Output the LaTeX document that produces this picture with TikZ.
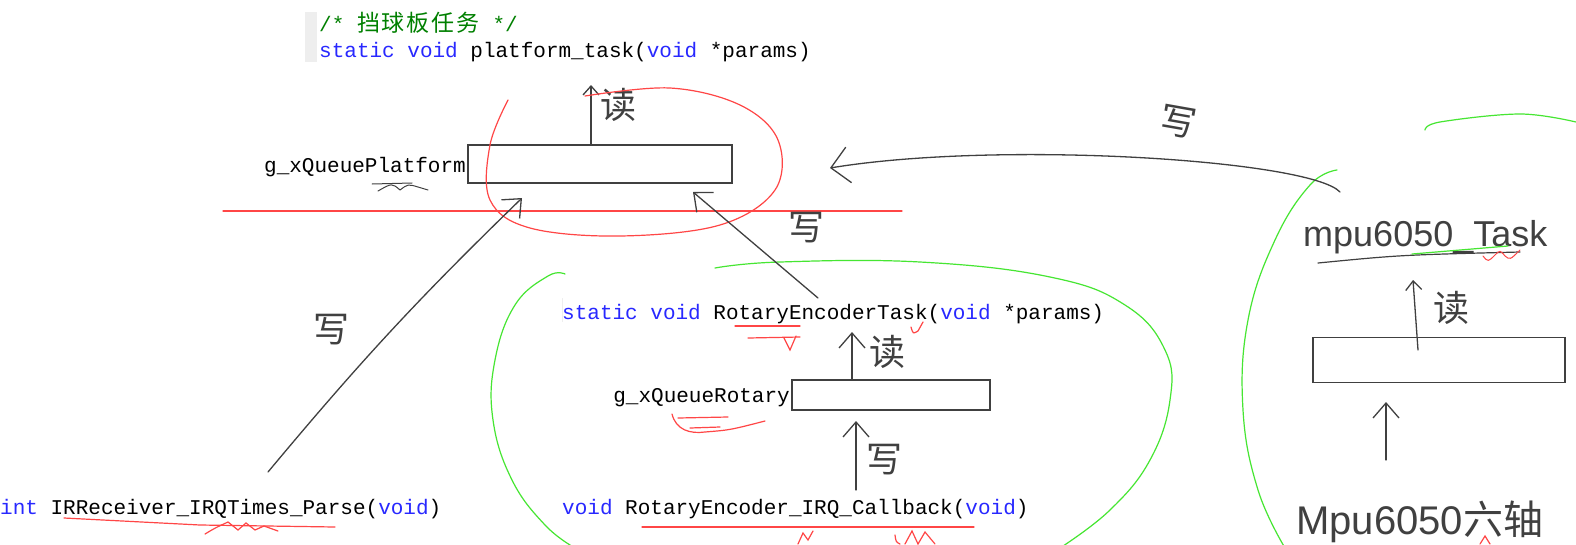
\documentclass[tikz,border=0pt]{standalone}
\usepackage{fontspec}
\setmonofont{Liberation Mono}
\setsansfont{Liberation Sans}
\newfontfamily\cjk{Noto Sans CJK SC}
\usetikzlibrary{arrows.meta}
\definecolor{kw}{RGB}{40,40,255}
\definecolor{cmt}{RGB}{0,128,0}
\definecolor{pen}{RGB}{64,64,64}
\definecolor{redpen}{RGB}{255,70,70}
\definecolor{greenpen}{RGB}{70,230,50}
\definecolor{margin}{RGB}{238,238,238}
\tikzset{
  code/.style={font=\ttfamily\fontsize{21}{24}\selectfont, inner sep=0pt, anchor=base west},
  codeR/.style={code, anchor=base east},
  queue/.style={draw=pen, line width=1.3pt, inner sep=0pt, fill=white},
  hand/.style={draw=pen, line width=1.3pt, line cap=round, line join=round},
  harrow/.style={hand, -{Straight Barb[length=15pt,width=26pt,line width=1.3pt]}},
  bigarrow/.style={hand, -{Straight Barb[length=18pt,width=36pt,line width=1.3pt]}},
  handtext/.style={text=pen, font=\cjk\fontsize{36}{38}\selectfont, inner sep=0pt},
  handlatin/.style={text=pen, font=\sffamily\fontsize{36}{38}\selectfont, inner sep=0pt, anchor=base west},
  redink/.style={draw=redpen, line width=1.2pt, line cap=round},
  greenink/.style={draw=greenpen, line width=1.2pt, line cap=round},
}
\begin{document}
\begin{tikzpicture}[x=1pt,y=-1pt]
\useasboundingbox (0,0) rectangle (1576,544);
\fill[white] (0,0) rectangle (1576,544);
% editor margin strip
\fill[margin] (305,12) rectangle (317,62);

% ---- top task ----
\node[code, text=cmt] (pcmt) at (319,31) {/* {\cjk\fontsize{23}{25}\selectfont 挡\hspace{2pt}球\hspace{2pt}板\hspace{2pt}任\hspace{2pt}务} */};
\node[code] (ptask) at (319,57) {\textcolor{kw}{static void} platform\_task(\textcolor{kw}{void} *params)};

% platform queue
\node[queue, minimum width=264pt, minimum height=38pt] (pbox) at (600,164) {};
\node[codeR] (plabel) at (466,172) {g\_xQueuePlatform};
\coordinate (pread) at (591,85);
\draw[hand, -{Straight Barb[length=9pt,width=16pt,line width=1.3pt]}] (pbox.north -| pread) -- (pread);
\node[handtext] (pr) at (618,105) {读};

% red ellipse and line
\draw[redink] plot[smooth, tension=0.6] coordinates {(508,100) (490,145) (490,200) (530,228) (620,236) (720,225) (775,190) (778,140) (740,105) (670,88) (585,96)};
\draw[redink] (223,211) -- (902,211);
% scribble under Platform
\draw[hand, line width=1pt] (372,184) -- (412,183);
\draw[hand, line width=1pt] (378,191) .. controls (392,183) .. (400,190) .. controls (408,184) .. (418,187) -- (428,190);

% ---- IR receiver ----
\node[code] (irf) at (0,514) {\textcolor{kw}{int} IRReceiver\_IRQTimes\_Parse(\textcolor{kw}{void})};
\coordinate (irstart) at (268,472);
\coordinate (irtip) at (522,198);
\draw[harrow] (irstart) to[bend left=3] (irtip);
\node[handtext] (w1) at (331,330) {写};
\draw[redink] (64,518) -- (200,525) -- (335,527);
\draw[redink] (205,534) .. controls (215,528) .. (228,522) -- (238,530) -- (246,523) -- (255,530) -- (264,526) -- (278,531);

% ---- Rotary encoder ----
\draw[greenink] plot[smooth, tension=0.7] coordinates {(565,274) (548,276) (515,305) (495,360) (493,420) (512,480) (545,525) (575,548)};
\draw[greenink] plot[smooth, tension=0.7] coordinates {(715,268) (780,262) (920,262) (1050,277) (1125,305) (1165,350) (1170,400) (1150,460) (1110,510) (1060,548)};
\draw[draw=margin, line width=1pt] (562,298) -- (562,322);
\node[code] (rtask) at (562,319) {\textcolor{kw}{static void} RotaryEncoderTask(\textcolor{kw}{void} *params)};
\node[queue, minimum width=198pt, minimum height=30pt] (rbox) at (891,395) {};
\node[codeR] (rlabel) at (790,402) {g\_xQueueRotary};
\coordinate (rread) at (852,332);
\draw[harrow] (rbox.north -| rread) -- (rread);
\node[handtext] (rr) at (887,352) {读};
\coordinate (rwstart) at (856,490);
\coordinate (rwtip) at (856,421);
\draw[harrow] (rwstart) -- (rwtip);
\node[handtext] (rw) at (884,460) {写};
\node[code] (rcb) at (562,514) {\textcolor{kw}{void} RotaryEncoder\_IRQ\_Callback(\textcolor{kw}{void})};

\coordinate (rtstart) at (818,298);
\coordinate (rttip) at (693,192);
\draw[harrow] (rtstart) -- (rttip);
\node[handtext] (w2) at (806,228) {写};

% red marks around rotary
\draw[redink] (735,326) -- (800,326);
\draw[redink] (748,338) -- (800,337);
\draw[redink] (784,338) -- (790,350) -- (796,336);
\draw[redink] (911,327) .. controls (913,334) .. (918,331) -- (923,322);
\draw[redink] (672,414) .. controls (676,430) and (690,434) .. (705,432) .. controls (730,430) .. (765,421);
\draw[redink] (678,418) -- (728,417);
\draw[redink] (690,428) -- (720,427);
\draw[redink] (642,527) -- (974,527);
\draw[redink] (798,544) -- (803,533) -- (808,540) -- (813,531);
\draw[redink] (895,535) .. controls (896,542) .. (900,544);
\draw[redink] (905,544) -- (912,531) -- (918,544) -- (925,532) -- (935,544);

% ---- mpu6050 ----
\draw[greenink] plot[smooth, tension=0.7] coordinates {(1337,170) (1310,185) (1275,240) (1248,320) (1243,410) (1258,490) (1285,548)};
\draw[greenink] plot[smooth, tension=0.6] coordinates {(1425,130) (1440,122) (1520,114) (1576,122)};
\node[handlatin] (mtask) at (1303,246) {mpu6050\_Task};
\draw[hand, line width=1.2pt] (1318,263) .. controls (1400,255) .. (1520,252);
\draw[greenink] (1412,254) -- (1508,246);
\draw[redink, line width=1pt] (1483,256) .. controls (1488,262) .. (1495,255) .. controls (1500,250) .. (1505,256) .. controls (1510,260) .. (1520,250);
\node[queue, minimum width=252pt, minimum height=45pt] (mbox) at (1439,360) {};
\coordinate (mread) at (1413,280);
\draw[hand, -{Straight Barb[length=9pt,width=16pt,line width=1.3pt]}] (1418,350) -- (mread);
\node[handtext] (mr) at (1451,308) {读};
\coordinate (mwstart) at (1386,460);
\coordinate (mwtip) at (1386,402);
\draw[harrow] (mwstart) -- (mwtip);
\node[handlatin, font=\sffamily\fontsize{40}{42}\selectfont] (msensor) at (1296,534) {Mpu6050{\cjk 六轴}};
\draw[redink] (1480,544) -- (1485,536) -- (1490,544);

\coordinate (mstart) at (1340,192);
\coordinate (mtip) at (830,168);
\draw[bigarrow] (mstart) .. controls (1310,160) and (1000,140) .. (mtip);
\node[handtext, rotate=-10] (w3) at (1178,122) {写};
\end{tikzpicture}
\end{document}
